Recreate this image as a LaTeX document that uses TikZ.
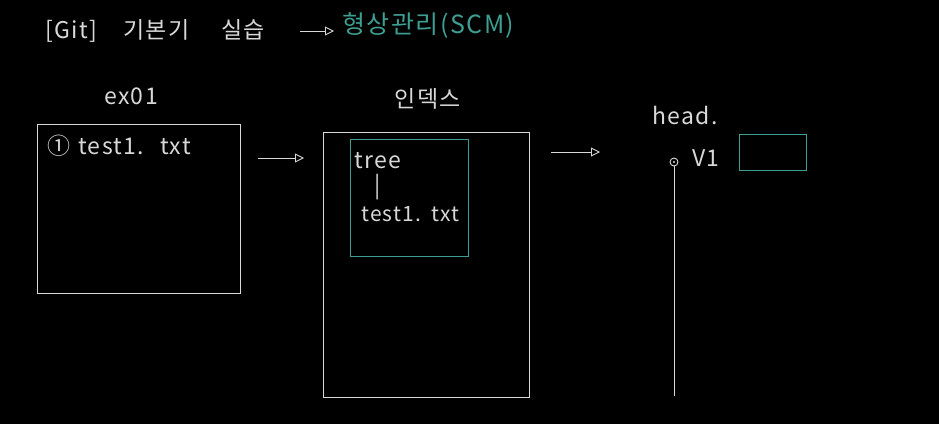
\documentclass[tikz,border=0pt]{standalone}
\usepackage{fontspec}
\setmainfont{Noto Sans CJK KR}[LetterSpace=6]
\usetikzlibrary{arrows.meta}
\definecolor{chalk}{HTML}{D8D8D8}
\definecolor{teal2}{HTML}{3E9E92}
\begin{document}
\begin{tikzpicture}[x=1pt,y=-1pt,
  hand/.style={text=chalk,font=\fontsize{23}{25}\selectfont, inner sep=0pt},
  wbox/.style={draw=chalk,line width=1.1pt},
  gbox/.style={draw=teal2,line width=1.1pt},
  flow/.style={draw=chalk,line width=0.9pt,-{Triangle[open,length=9pt,width=9pt]}}]
\fill[black] (0,0) rectangle (939,424);
\useasboundingbox (0,0) rectangle (939,424);
% title
\node[hand,anchor=west] (title) at (45,31) {[Git]\hspace{26pt}기본기\hspace{32pt}실습};
\coordinate (ta) at (300,31);
\coordinate (tb) at (334,31);
\draw[flow] (ta) -- (tb);
\node[hand,anchor=west,text=teal2,font=\fontsize{25}{27}\selectfont] (scm) at (342,26) {형상관리(SCM)};
% box 1
\node[hand] (l1) at (131,96) {ex01};
\node[wbox,minimum width=203pt,minimum height=169pt,anchor=north west] (b1) at (37,124) {};
\node[hand,anchor=west] (t1) at (47,146) {①\hspace{8pt}test1.\hspace{16pt}txt};
% arrow 1
\coordinate (a1s) at (258,158);
\coordinate (a1e) at (304,158);
\draw[flow] (a1s) -- (a1e);
% box 2
\node[hand] (l2) at (428,99) {인덱스};
\node[wbox,minimum width=206pt,minimum height=265pt,anchor=north west] (b2) at (323,132) {};
\node[gbox,minimum width=118pt,minimum height=117pt,anchor=north west] (g2) at (350,139) {};
\node[hand,anchor=west] (tree) at (354,161) {tree};
\node[hand] (bar) at (378,187) {|};
\node[hand,anchor=west,font=\fontsize{21}{23}\selectfont] (t2) at (361,214) {test1.\hspace{10pt}txt};
% arrow 2
\coordinate (a2s) at (551,152);
\coordinate (a2e) at (600,152);
\draw[flow] (a2s) -- (a2e);
% head
\node[hand] (head) at (685,115) {head.};
\node[circle,draw=chalk,line width=0.9pt,inner sep=0pt,minimum size=8pt] (c) at (674,162) {};
\fill[chalk] (c.center) circle (1.2pt);
\coordinate (cb) at (674,396);
\draw[chalk,line width=1pt] (c.south) -- (cb);
\node[hand,anchor=west] (v1) at (692,158) {V1};
\node[gbox,minimum width=67pt,minimum height=36pt,anchor=north west] (g3) at (739,134) {};
\end{tikzpicture}
\end{document}
